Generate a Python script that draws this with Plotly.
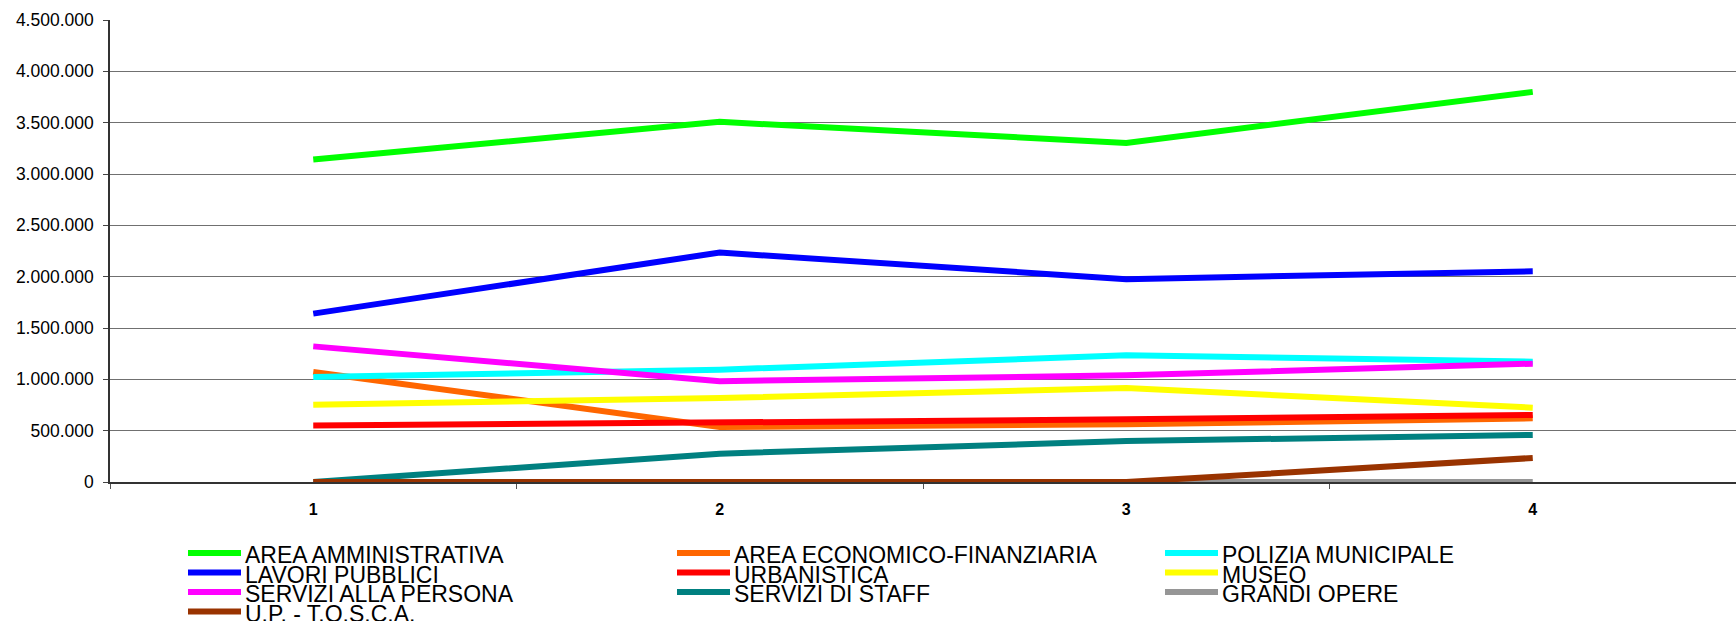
import plotly.graph_objects as go

# ---- data ----
periods = [1, 2, 3, 4]
period_labels = ["1", "2", "3", "4"]

series_names = [
    "AREA AMMINISTRATIVA",
    "AREA ECONOMICO-FINANZIARIA",
    "POLIZIA MUNICIPALE",
    "LAVORI PUBBLICI",
    "URBANISTICA",
    "MUSEO",
    "SERVIZI ALLA PERSONA",
    "SERVIZI DI STAFF",
    "GRANDI OPERE",
    "U.P. - T.O.S.C.A.",
]
area_amministrativa = [3142000, 3508000, 3303000, 3800000]
area_economico_finanziaria = [1072000, 536000, 562000, 620000]
polizia_municipale = [1023000, 1094000, 1234000, 1172000]
lavori_pubblici = [1640000, 2235000, 1976000, 2052000]
urbanistica = [550000, 575000, 610000, 653000]
museo = [753000, 818000, 916000, 724000]
servizi_alla_persona = [1321000, 982000, 1039000, 1153000]
servizi_di_staff = [0, 276000, 399000, 458000]
grandi_opere = [0, 0, 0, 0]
up_tosca = [0, 0, 0, 234000]

series_values = [
    area_amministrativa, area_economico_finanziaria, polizia_municipale,
    lavori_pubblici, urbanistica, museo, servizi_alla_persona,
    servizi_di_staff, grandi_opere, up_tosca,
]
series_colors = [
    "#00FF00", "#FF6600", "#00FFFF", "#0000FF", "#FF0000",
    "#FFFF00", "#FF00FF", "#008080", "#969696", "#993300",
]

y_ticks = [0, 500000, 1000000, 1500000, 2000000, 2500000, 3000000, 3500000, 4000000, 4500000]

# ---- layout geometry (pixels) ----
W, H = 1736, 621
ML, MR, MT, MB = 110, 0, 20, 139
PW, PH = W - ML - MR, H - MT - MB

def px_x(p):
    return (p - ML) / PW

def px_y(p):
    return (H - MB - p) / PH

fig = go.Figure()
for name, vals, col in zip(series_names, series_values, series_colors):
    fig.add_trace(go.Scatter(
        x=periods, y=vals, name=name, mode="lines",
        line=dict(color=col, width=6),
        showlegend=False,
    ))

# manual legend (3 columns, row-major)
col_x = [188, 677, 1165]
row_y = [553, 572.5, 592, 611.5]
font_family = "Liberation Sans, Arial, sans-serif"
for i, (name, col) in enumerate(zip(series_names, series_colors)):
    r, c = divmod(i, 3)
    x0 = col_x[c]
    yy = row_y[r]
    fig.add_shape(type="line", xref="paper", yref="paper",
                  x0=px_x(x0), x1=px_x(x0 + 53), y0=px_y(yy), y1=px_y(yy),
                  line=dict(color=col, width=6))
    fig.add_annotation(xref="paper", yref="paper", x=px_x(x0 + 55), y=px_y(yy + 2),
                       text=name, showarrow=False, xanchor="left", yanchor="middle",
                       font=dict(family=font_family, size=23, color="black"))

fig.update_layout(
    width=W, height=H,
    margin=dict(l=ML, r=MR, t=MT, b=MB, pad=0),
    paper_bgcolor="white", plot_bgcolor="white",
    separators=",.",
    showlegend=False,
    font=dict(family=font_family, color="black"),
)
fig.update_xaxes(
    range=[0.5, 4.5],
    tickmode="array", tickvals=periods, ticktext=period_labels,
    ticks="", showgrid=False, zeroline=False,
    showline=True, linecolor="#333333", linewidth=1.5,
    tickfont=dict(family=font_family, size=16, color="black", weight="bold"),
    ticklabelstandoff=12,
    minor=dict(tickmode="array", tickvals=[0.5, 1.5, 2.5, 3.5], ticks="outside",
               ticklen=5, tickcolor="#555555", tickwidth=1, showgrid=False),
)
fig.update_yaxes(
    range=[0, 4500000],
    tickmode="array", tickvals=y_ticks, tickformat=",d",
    ticks="outside", ticklen=5, tickcolor="#444444", tickwidth=1,
    showgrid=True, gridcolor="#707070", gridwidth=1,
    zeroline=False,
    showline=True, linecolor="#333333", linewidth=1.5,
    tickfont=dict(family=font_family, size=17.5, color="black"),
    ticklabelstandoff=6,
)

fig.write_html("out.html", config={"displayModeBar": False},
               post_script="document.body.style.margin='0';")
